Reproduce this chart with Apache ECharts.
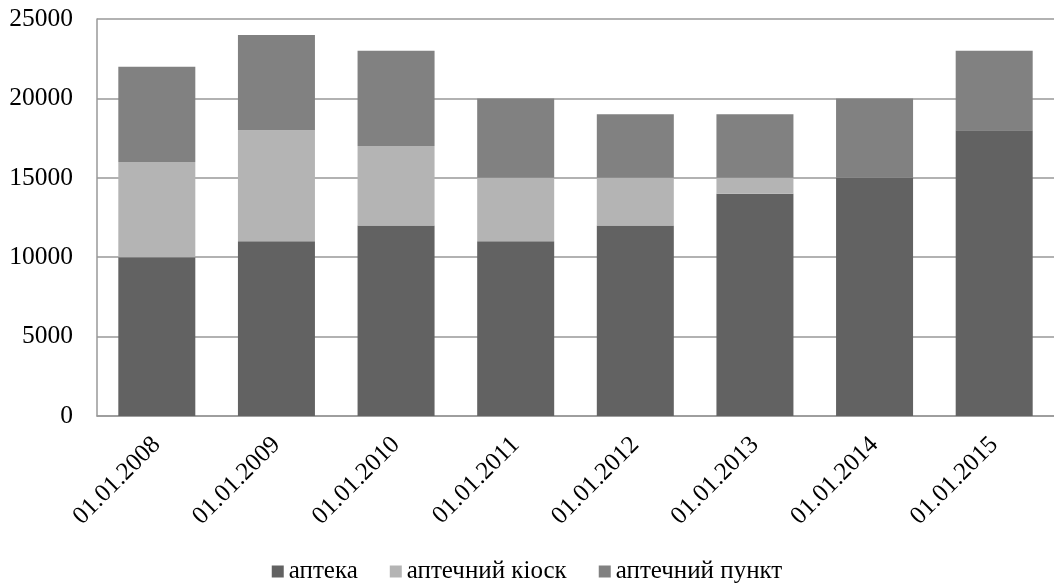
<!DOCTYPE html>
<html>
<head>
<meta charset="utf-8">
<script src="https://cdn.jsdelivr.net/npm/echarts@6/dist/echarts.min.js"></script>
<style>
  html, body { margin: 0; padding: 0; background: #ffffff; }
  #chart { width: 1054px; height: 585px; }
</style>
</head>
<body>
<div id="chart"></div>
<script>
// Pharmacy network by type, counted on 1 January of each year
const categories = ['01.01.2008', '01.01.2009', '01.01.2010', '01.01.2011',
                    '01.01.2012', '01.01.2013', '01.01.2014', '01.01.2015'];
const pharmacies = [10000, 11000, 12000, 11000, 12000, 14000, 15000, 18000];
const kiosks     = [6000, 7000, 5000, 4000, 3000, 1000, 0, 0];
const points     = [6000, 6000, 6000, 5000, 4000, 4000, 5000, 5000];
const seriesNames = ['аптека', 'аптечний кіоск', 'аптечний пункт'];
const yTicks = { min: 0, max: 25000, interval: 5000 };

const serif = '"Liberation Serif", "Times New Roman", serif';
const colors = ['#626262', '#b4b4b4', '#818181'];

const chart = echarts.init(document.getElementById('chart'), null, { renderer: 'canvas' });

const stackSeries = [pharmacies, kiosks, points].map((data, i) => ({
  name: seriesNames[i],
  type: 'bar',
  stack: 'total',
  barWidth: 77,
  data: data,
  itemStyle: { color: colors[i] },
  emphasis: { disabled: true }
}));

chart.setOption({
  animation: false,
  color: colors,
  grid: { left: 97, top: 19, width: 962, height: 397, containLabel: false },
  legend: {
    bottom: -4,
    left: 'center',
    itemWidth: 12,
    itemHeight: 12,
    itemGap: 32,
    icon: 'rect',
    textStyle: { fontFamily: serif, fontSize: 25, color: '#000' },
    data: seriesNames
  },
  xAxis: {
    type: 'category',
    data: categories,
    axisLine: { lineStyle: { color: '#989898', width: 1.5 } },
    axisTick: { show: false },
    axisLabel: {
      rotate: 45,
      margin: 25,
      fontFamily: serif,
      fontSize: 25,
      color: '#000',
      interval: 0
    }
  },
  yAxis: {
    type: 'value',
    min: yTicks.min,
    max: yTicks.max,
    interval: yTicks.interval,
    axisLine: { show: true, lineStyle: { color: '#989898', width: 1.5 } },
    axisTick: { show: false },
    splitLine: { lineStyle: { color: '#989898', width: 1.5 } },
    axisLabel: {
      margin: 24,
      fontFamily: serif,
      fontSize: 25.5,
      color: '#000',
      formatter: (v) => String(v)
    }
  },
  series: stackSeries
});
</script>
</body>
</html>
